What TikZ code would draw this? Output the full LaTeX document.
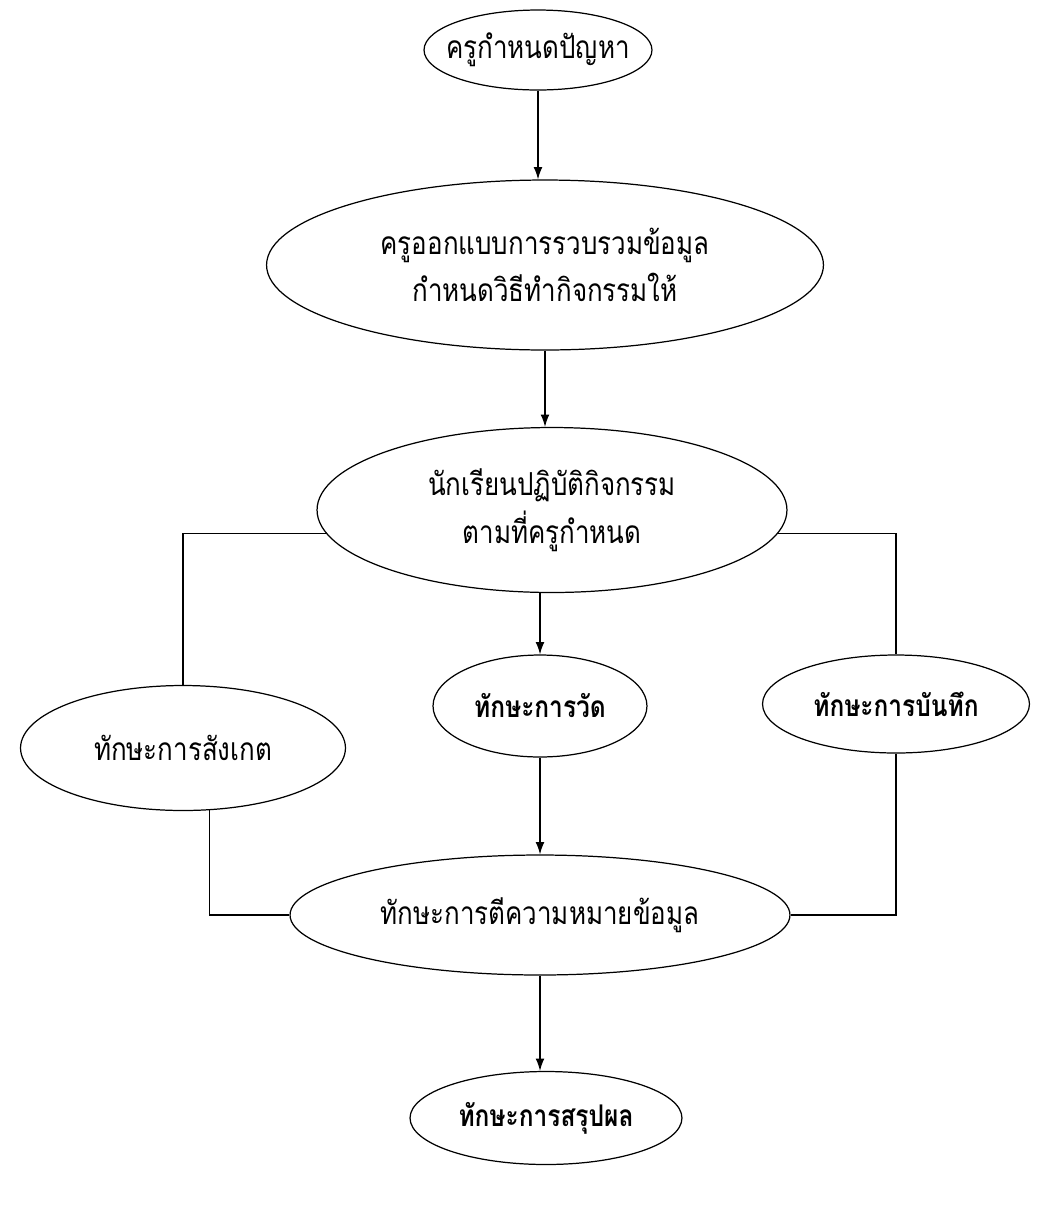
\documentclass[tikz,border=0pt]{standalone}
\usepackage{fontspec}
\newfontfamily\thaifont[Script=Thai,FakeStretch=0.82]{Loma}
\usetikzlibrary{shapes.geometric,arrows.meta}

\begin{document}
\begin{tikzpicture}[x=0.02cm,y=-0.02cm,
		stage/.style={ellipse,draw,line width=.7pt,fill=white,inner xsep=-1cm,inner ysep=0pt,align=center,
			font=\thaifont\fontsize{18}{27}\selectfont},
		skill/.style={stage,font=\thaifont\bfseries\fontsize{17}{27}\selectfont},
		flow/.style={line width=.7pt},
		arr/.style={flow,-{Latex[length=7pt,width=5pt]}}]
	\useasboundingbox (0,0) rectangle (1060,1232);
	% stages
	\node[stage,minimum width=4.56cm,minimum height=1.6cm] (prob) at (538,50) {ครูกำหนดปัญหา};
	\node[stage,minimum width=11.14cm,minimum height=3.4cm] (design) at (545,265) {ครูออกแบบการรวบรวมข้อมูล\\กำหนดวิธีทำกิจกรรมให้};
	\node[stage,minimum width=9.4cm,minimum height=3.3cm] (act) at (552,510) {นักเรียนปฏิบัติกิจกรรม\\ตามที่ครูกำหนด};
	\node[stage,minimum width=6.5cm,minimum height=2.5cm] (obs) at (183,748) {ทักษะการสังเกต};
	\node[skill,minimum width=4.28cm,minimum height=2.04cm] (meas) at (540,706) {ทักษะการวัด};
	\node[skill,minimum width=5.34cm,minimum height=1.96cm] (rec) at (896,704) {ทักษะการบันทึก};
	\node[stage,minimum width=10cm,minimum height=2.4cm] (interp) at (540,915) {ทักษะการตีความหมายข้อมูล};
	\node[skill,minimum width=5.44cm,minimum height=1.86cm] (concl) at (546,1118) {ทักษะการสรุปผล};
	% arrows down the middle
	\draw[arr] (prob) -- (prob |- design.north);
	\draw[arr] (design) -- (design |- act.north);
	\draw[arr] (meas |- act.south) -- (meas);
	\draw[arr] (meas) -- (meas |- interp.north);
	\draw[arr] (interp) -- (interp |- concl.north);
	% side branches
	\draw[flow] (act.186) -| (obs.north);
	\draw[flow] (act.354) -| (rec.north);
	\draw[flow] (obs.293) |- (interp.west);
	\draw[flow] (rec.south) |- (interp.east);
\end{tikzpicture}
\end{document}
